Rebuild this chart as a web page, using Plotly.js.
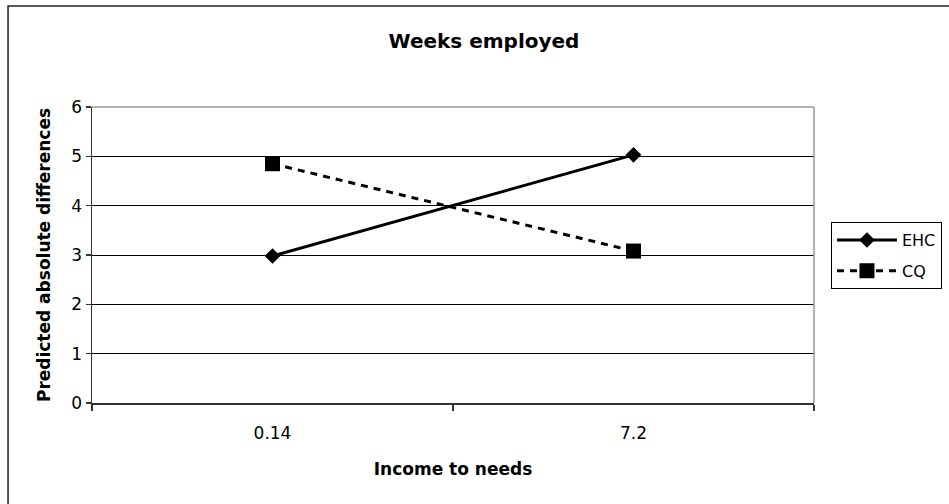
<!DOCTYPE html>
<html>
<head>
<meta charset="utf-8">
<script src="https://cdn.plot.ly/plotly-3.0.1.min.js"></script>
<style>
  html, body { margin: 0; padding: 0; background: #fff; }
  #chart { width: 949px; height: 504px; }
</style>
</head>
<body>
<div id="chart"></div>
<script>
// Income-to-needs levels on the category axis
const incomeLevels = ['0.14', '7.2'];
// Predicted absolute differences, weeks employed
const ehcValues = [2.98, 5.03];
const cqValues = [4.85, 3.08];
const seriesNames = ['EHC', 'CQ'];

const FONT = '"DejaVu Sans", "Liberation Sans", Arial, sans-serif';

const traces = [
  {
    x: incomeLevels, y: ehcValues, name: seriesNames[0],
    type: 'scatter', mode: 'lines+markers', legendgroup: 'a',
    line: { color: '#000', width: 3 },
    marker: { symbol: 'diamond', size: 12, color: '#000' }
  },
  {
    x: incomeLevels, y: cqValues, name: seriesNames[1],
    type: 'scatter', mode: 'lines+markers', legendgroup: 'b',
    line: { color: '#000', width: 3, dash: '7px,6px' },
    marker: { symbol: 'square', size: 15, color: '#000' }
  }
];

const layout = {
  width: 949, height: 504,
  paper_bgcolor: '#fff', plot_bgcolor: '#fff',
  margin: { l: 92, r: 135, t: 107, b: 101, autoexpand: false },
  font: { family: FONT, color: '#000', size: 16 },
  title: {
    text: '<b>Weeks employed</b>',
    font: { family: FONT, size: 20, color: '#000' },
    xref: 'container', x: 0.51, xanchor: 'center',
    yref: 'container', y: 0.919, yanchor: 'middle'
  },
  xaxis: {
    type: 'category',
    range: [-0.5, 1.5],
    tickson: 'boundaries',
    ticks: 'outside', ticklen: 6, tickwidth: 1.5, tickcolor: '#333',
    showgrid: false, zeroline: false,
    showline: true, linecolor: '#333', linewidth: 1.5,
    tickfont: { family: FONT, size: 17, color: '#000' },
    ticklabelstandoff: 14,
    title: {
      text: '<b>Income to needs</b>',
      font: { family: FONT, size: 17, color: '#000' },
      standoff: 21
    },
    fixedrange: true
  },
  yaxis: {
    range: [0, 6], dtick: 1, tick0: 0,
    ticks: 'outside', ticklen: 5, tickwidth: 1.5, tickcolor: '#333',
    showgrid: true, gridcolor: '#000', gridwidth: 1,
    zeroline: false,
    showline: true, linecolor: '#333', linewidth: 1.5,
    tickfont: { family: FONT, size: 17, color: '#000' },
    title: {
      text: '<b>Predicted absolute differences</b>',
      font: { family: FONT, size: 17, color: '#000' },
      standoff: 16
    },
    fixedrange: true
  },
  legend: {
    x: 1.0235, xanchor: 'left',
    y: 0.611, yanchor: 'top',
    bordercolor: '#000', borderwidth: 1,
    bgcolor: '#fff',
    font: { family: FONT, size: 16, color: '#000' },
    traceorder: 'grouped', tracegroupgap: 7,
    itemwidth: 60
  },
  shapes: [
    // gray top and right edges of the plotting area
    { type: 'line', xref: 'paper', yref: 'paper', x0: 0, x1: 1, y0: 1, y1: 1,
      line: { color: '#999', width: 1.5 } },
    { type: 'line', xref: 'paper', yref: 'paper', x0: 1, x1: 1, y0: 0, y1: 1,
      line: { color: '#999', width: 1.5 } },
    // outer chart frame
    { type: 'rect', xref: 'paper', yref: 'paper',
      x0: -0.1163, x1: 2, y0: -1, y1: 1.3412,
      line: { color: '#222', width: 1.5 } }
  ],
  showlegend: true,
  hovermode: false
};

Plotly.newPlot('chart', traces, layout, { staticPlot: true, displayModeBar: false });
</script>
</body>
</html>
